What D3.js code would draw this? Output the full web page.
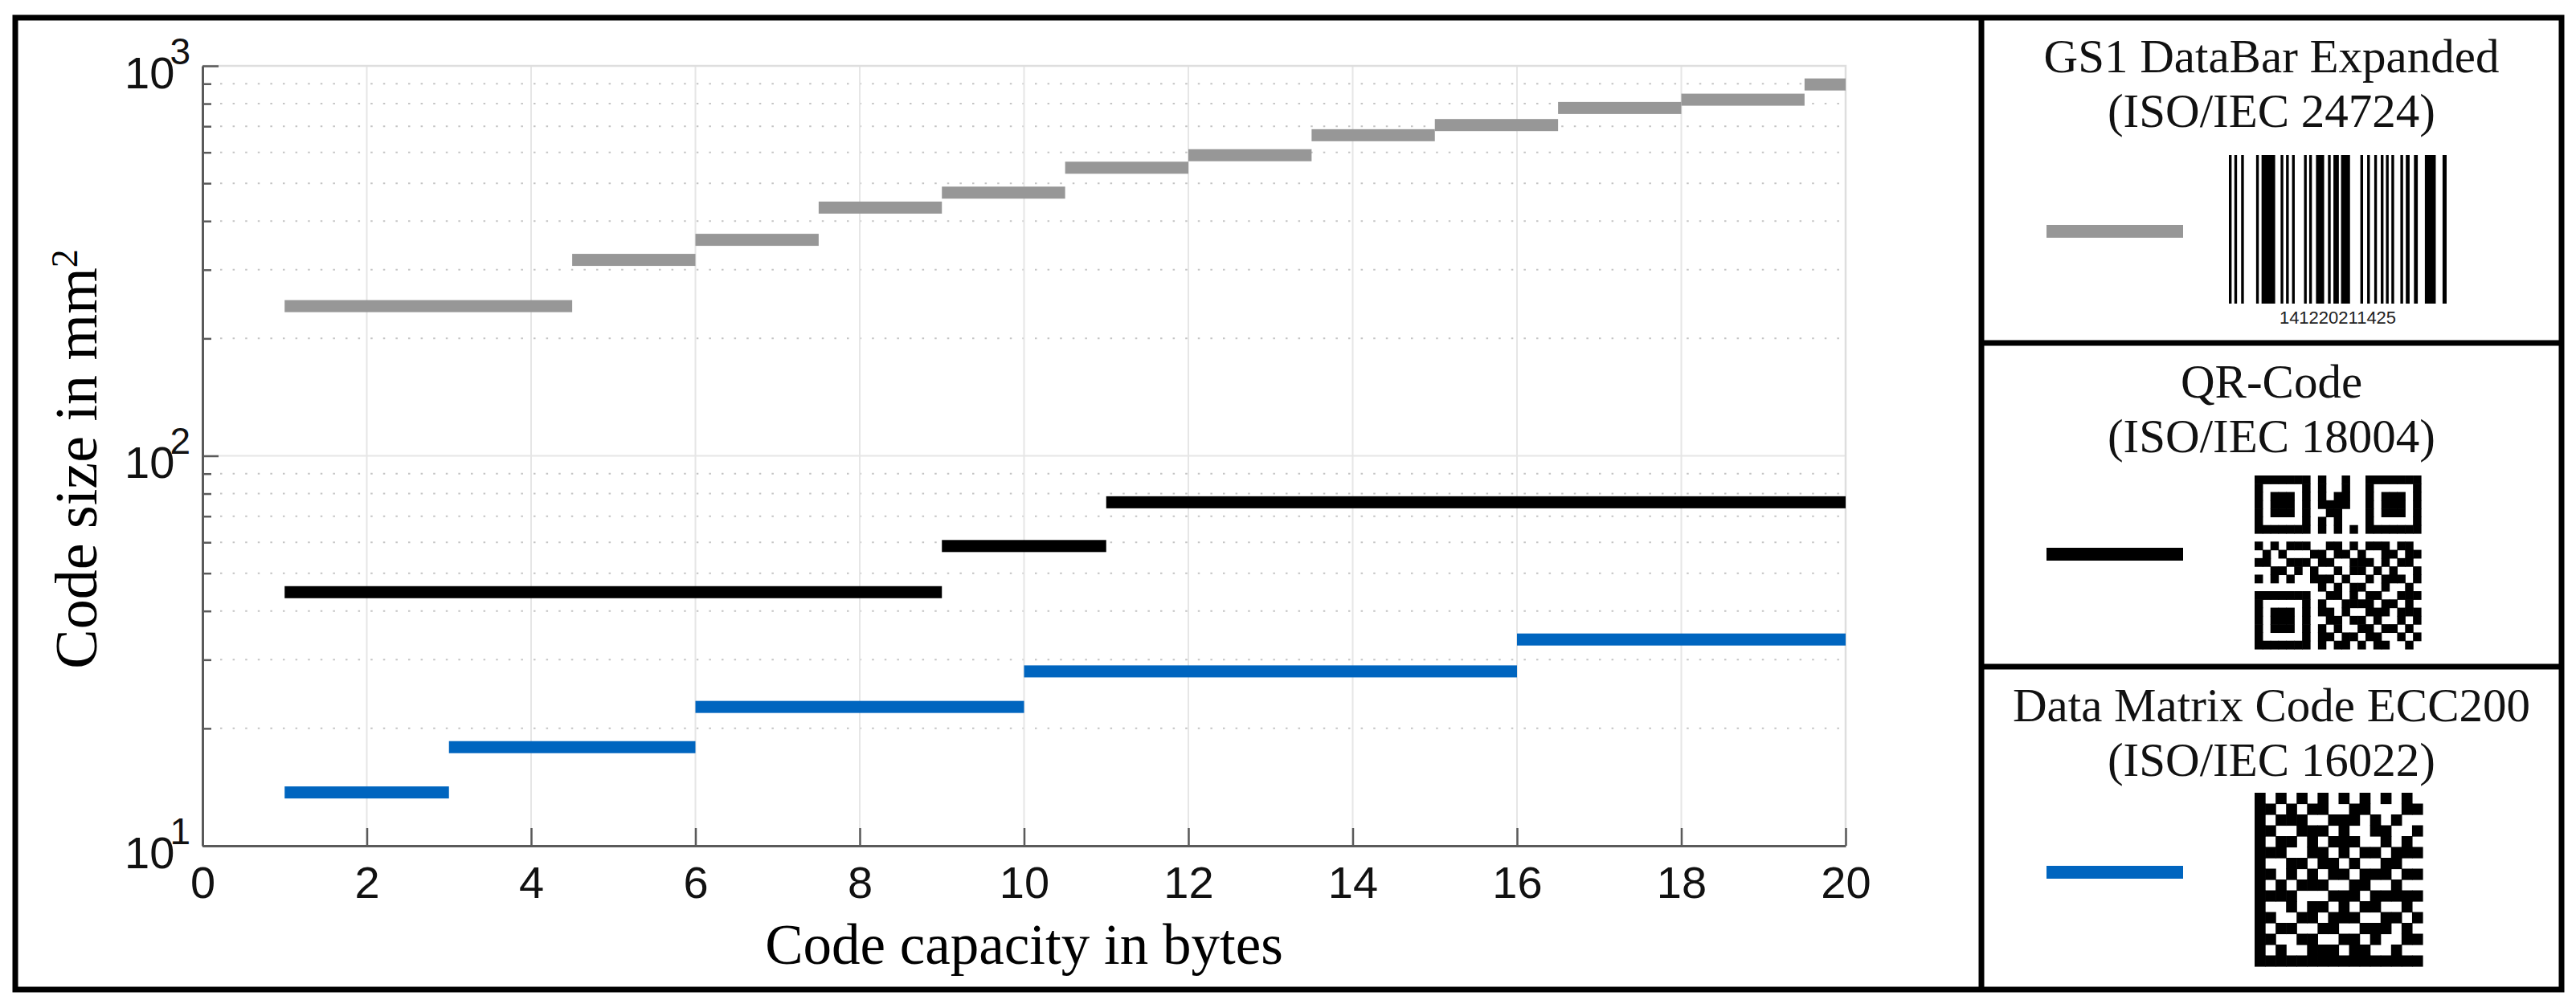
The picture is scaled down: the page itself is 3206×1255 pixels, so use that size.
<!DOCTYPE html>
<html>
<head>
<meta charset="utf-8">
<script src="https://cdn.jsdelivr.net/npm/d3@7"></script>
<style>
  body { margin: 0; background: #fff; }
  svg { display: block; }
</style>
</head>
<body>
<svg width="3206" height="1255"></svg>
<script>
// step segments: capacity range [start, end) -> code size in mm²
const gs1Start = [1, 4.5, 6, 7.5, 9, 10.5, 12, 13.5, 15, 16.5, 18, 19.5];
const gs1End = [4.5, 6, 7.5, 9, 10.5, 12, 13.5, 15, 16.5, 18, 19.5, 20];
const gs1Size = [242, 318, 358, 433, 473, 548, 590, 664, 705, 780, 819, 896];

const qrStart = [1, 9, 11];
const qrEnd = [9, 11, 20];
const qrSize = [44.7, 58.7, 76];

const dmStart = [1, 3, 6, 10, 16];
const dmEnd = [3, 6, 10, 16, 20];
const dmSize = [13.7, 17.9, 22.7, 28, 33.8];

const xTicks = [0, 2, 4, 6, 8, 10, 12, 14, 16, 18, 20];
const yMajor = [10, 100, 1000];
const yMinor = [20, 30, 40, 50, 60, 70, 80, 90, 200, 300, 400, 500, 600, 700, 800, 900];

const legendTitles = [
  ["GS1 DataBar Expanded", "(ISO/IEC 24724)"],
  ["QR-Code", "(ISO/IEC 18004)"],
  ["Data Matrix Code ECC200", "(ISO/IEC 16022)"]
];
const seriesColors = ["#979797", "#000000", "#0065bf"];

// barcode bars: [start, width] in module units (0..80)
const barcodeBars = [
  [0, 1], [2, 1], [4.5, 1], [10, 1], [12, 5], [19, 1], [21, 1], [23.2, 1],
  [27.6, 1], [29.5, 1], [32, 3], [36.4, 1], [38.4, 2], [41.2, 3.3], [48.3, 1],
  [50.8, 1], [53.4, 1], [55.8, 1], [57.7, 1], [59.7, 1], [63, 1], [65, 1.4],
  [68, 1.4], [72, 4], [78.5, 1.5]
];
const barcodeText = "141220211425";

const qrRows = [
  "111111101001001111111",
  "100000101001001000001",
  "101110101011001011101",
  "101110101111001011101",
  "101110100110001011101",
  "100000101010001000001",
  "111111101010101111111",
  "000000000000000000000",
  "101011100110101110110",
  "010100011011010011011",
  "110011101100111010110",
  "001101010010110101001",
  "101010011101001011101",
  "000000001010110010010",
  "111111100110101100111",
  "100000101001111011010",
  "101110101101001110111",
  "101110100110110100101",
  "101110101010011011010",
  "100000101101101100101",
  "111111101011010110010"
];

const dmRows = [
  "1010101010101010",
  "1101011001100011",
  "1011100111010100",
  "1100111010011001",
  "1011010111001010",
  "1110011010110111",
  "1001101101001100",
  "1101010110111011",
  "1010111001100100",
  "1111000111011111",
  "1001011010110010",
  "1100110111001101",
  "1011001100111010",
  "1100110011010011",
  "1010011101100100",
  "1111111111111111"
];

const svg = d3.select("svg");
const width = +svg.attr("width");
const height = +svg.attr("height");

const serif = "'Liberation Serif', 'DejaVu Serif', serif";
const sans = "'Liberation Sans', Arial, sans-serif";
const axisColor = "#5a5a5a";

svg.append("rect").attr("width", width).attr("height", height).attr("fill", "#fff");

const plot = { left: 252, right: 2297, top: 82, bottom: 1053 };

const x = d3.scaleLinear().domain([0, 20]).range([plot.left, plot.right]);
const y = d3.scaleLog().domain([10, 1000]).range([plot.bottom, plot.top]);

const g = svg.append("g");

// grid
g.selectAll(".minor-grid")
  .data(yMinor)
  .enter()
  .append("line")
  .attr("x1", plot.left + 22)
  .attr("x2", plot.right)
  .attr("y1", (d) => y(d))
  .attr("y2", (d) => y(d))
  .attr("stroke", "#c4c4c4")
  .attr("stroke-width", 2)
  .attr("stroke-dasharray", "2.5,13.1");

g.selectAll(".vgrid")
  .data(xTicks.slice(1, -1))
  .enter()
  .append("line")
  .attr("x1", (d) => x(d))
  .attr("x2", (d) => x(d))
  .attr("y1", plot.top)
  .attr("y2", plot.bottom)
  .attr("stroke", "#e6e6e6")
  .attr("stroke-width", 2);

g.selectAll(".hgrid")
  .data(yMajor.slice(1, -1))
  .enter()
  .append("line")
  .attr("x1", plot.left)
  .attr("x2", plot.right)
  .attr("y1", (d) => y(d))
  .attr("y2", (d) => y(d))
  .attr("stroke", "#e6e6e6")
  .attr("stroke-width", 2);

// light box on top and right
g.append("path")
  .attr("d", `M${plot.left},${plot.top}H${plot.right}V${plot.bottom}`)
  .attr("fill", "none")
  .attr("stroke", "#dedede")
  .attr("stroke-width", 2.5);

// step bars
const barThickness = 15;
const series = [
  { start: gs1Start, end: gs1End, size: gs1Size, color: seriesColors[0] },
  { start: qrStart, end: qrEnd, size: qrSize, color: seriesColors[1] },
  { start: dmStart, end: dmEnd, size: dmSize, color: seriesColors[2] }
];

series.forEach((s) => {
  g.append("g")
    .selectAll("rect")
    .data(s.size)
    .enter()
    .append("rect")
    .attr("x", (d, i) => x(s.start[i]))
    .attr("width", (d, i) => x(s.end[i]) - x(s.start[i]))
    .attr("y", (d) => y(d) - barThickness / 2)
    .attr("height", barThickness)
    .attr("fill", s.color);
});

// x axis
const xAxis = d3
  .axisBottom(x)
  .tickValues(xTicks)
  .tickSizeInner(-22)
  .tickSizeOuter(0)
  .tickPadding(25)
  .tickFormat(d3.format("d"));

const xAxisG = svg
  .append("g")
  .attr("transform", `translate(0,${plot.bottom})`)
  .call(xAxis);

xAxisG.select(".domain").attr("stroke", axisColor).attr("stroke-width", 3);
xAxisG.selectAll(".tick line").attr("stroke", axisColor).attr("stroke-width", 2.5);
xAxisG
  .selectAll(".tick text")
  .attr("font-family", sans)
  .attr("font-size", 56)
  .attr("fill", "#111");

// y axis minor ticks
const yMinorAxis = d3
  .axisLeft(y)
  .tickValues(yMinor)
  .tickSizeInner(-11)
  .tickSizeOuter(0)
  .tickFormat(() => "");

const yMinorG = svg
  .append("g")
  .attr("transform", `translate(${plot.left},0)`)
  .call(yMinorAxis);
yMinorG.select(".domain").remove();
yMinorG.selectAll(".tick line").attr("stroke", axisColor).attr("stroke-width", 2.5);

// y axis major ticks with 10^n labels
const yAxis = d3
  .axisLeft(y)
  .tickValues(yMajor)
  .tickSizeInner(-20)
  .tickSizeOuter(0)
  .tickPadding(15);

const yAxisG = svg
  .append("g")
  .attr("transform", `translate(${plot.left},0)`)
  .call(yAxis);

yAxisG.select(".domain").attr("stroke", axisColor).attr("stroke-width", 3);
yAxisG.selectAll(".tick line").attr("stroke", axisColor).attr("stroke-width", 2.5);
yAxisG.selectAll(".tick text").each(function (d) {
  const t = d3.select(this);
  t.text(null)
    .attr("dy", null)
    .attr("y", 27)
    .attr("font-family", sans)
    .attr("font-size", 56)
    .attr("fill", "#111");
  t.append("tspan").text("10");
  t.append("tspan")
    .attr("dx", -6)
    .attr("dy", -30)
    .attr("font-size", 46)
    .text(Math.round(Math.log10(d)));
});

// axis titles
svg
  .append("text")
  .attr("x", (plot.left + plot.right) / 2)
  .attr("y", 1200)
  .attr("text-anchor", "middle")
  .attr("font-family", serif)
  .attr("font-size", 71)
  .attr("fill", "#000")
  .text("Code capacity in bytes");

const yLabel = svg
  .append("text")
  .attr("transform", `translate(120,${(plot.top + plot.bottom) / 2 + 4}) rotate(-90)`)
  .attr("text-anchor", "middle")
  .attr("font-family", serif)
  .attr("font-size", 74)
  .attr("fill", "#000");
yLabel.append("tspan").text("Code size in mm");
yLabel.append("tspan").attr("dy", -24).attr("font-size", 46).text("2");

// frame and legend panels
const frame = { left: 19, top: 22, right: 3188, bottom: 1232, split: 2466 };
const panelTop = [22, 427, 830];
const legendLineY = [288, 690, 1086];
const panelCx = (frame.split + frame.right) / 2;

svg.append("rect")
  .attr("x", frame.left)
  .attr("y", frame.top)
  .attr("width", frame.right - frame.left)
  .attr("height", frame.bottom - frame.top)
  .attr("fill", "none")
  .attr("stroke", "#000")
  .attr("stroke-width", 7);

svg.append("line")
  .attr("x1", frame.split).attr("x2", frame.split)
  .attr("y1", frame.top).attr("y2", frame.bottom)
  .attr("stroke", "#000").attr("stroke-width", 7);

svg.selectAll(".panel-divider")
  .data(panelTop.slice(1))
  .enter()
  .append("line")
  .attr("x1", frame.split).attr("x2", frame.right)
  .attr("y1", (d) => d).attr("y2", (d) => d)
  .attr("stroke", "#000").attr("stroke-width", 7);

legendTitles.forEach((lines, i) => {
  lines.forEach((line, j) => {
    svg.append("text")
      .attr("x", panelCx)
      .attr("y", panelTop[i] + 68 + j * 68)
      .attr("text-anchor", "middle")
      .attr("font-family", serif)
      .attr("font-size", 59)
      .attr("fill", "#111")
      .text(line);
  });
  svg.append("rect")
    .attr("x", 2547)
    .attr("y", legendLineY[i] - 8)
    .attr("width", 170)
    .attr("height", 16)
    .attr("fill", seriesColors[i]);
});

// barcode icon
const bx = d3.scaleLinear().domain([0, 80]).range([2774, 3045]);
svg.append("g")
  .selectAll("rect")
  .data(barcodeBars)
  .enter()
  .append("rect")
  .attr("x", (d) => bx(d[0]))
  .attr("width", (d) => bx(d[0] + d[1]) - bx(d[0]))
  .attr("y", 193)
  .attr("height", 185)
  .attr("fill", "#000");

svg.append("text")
  .attr("x", bx(40))
  .attr("y", 403)
  .attr("text-anchor", "middle")
  .attr("font-family", sans)
  .attr("font-size", 22)
  .attr("fill", "#222")
  .text(barcodeText);

// module-based codes
const drawModules = (rows, xRange, yRange) => {
  const n = rows.length;
  const mx = d3.scaleLinear().domain([0, n]).range(xRange);
  const my = d3.scaleLinear().domain([0, n]).range(yRange);
  const cells = rows.flatMap((row, r) =>
    [...row].map((c, col) => ({ r, col, on: c === "1" }))
  ).filter((d) => d.on);
  svg.append("g")
    .selectAll("rect")
    .data(cells)
    .enter()
    .append("rect")
    .attr("x", (d) => mx(d.col))
    .attr("y", (d) => my(d.r))
    .attr("width", mx(1) - mx(0) + 0.6)
    .attr("height", my(1) - my(0) + 0.6)
    .attr("fill", "#000");
};

drawModules(qrRows, [2806, 3013], [592, 808]);
drawModules(dmRows, [2806, 3015], [987, 1203]);
</script>
</body>
</html>
